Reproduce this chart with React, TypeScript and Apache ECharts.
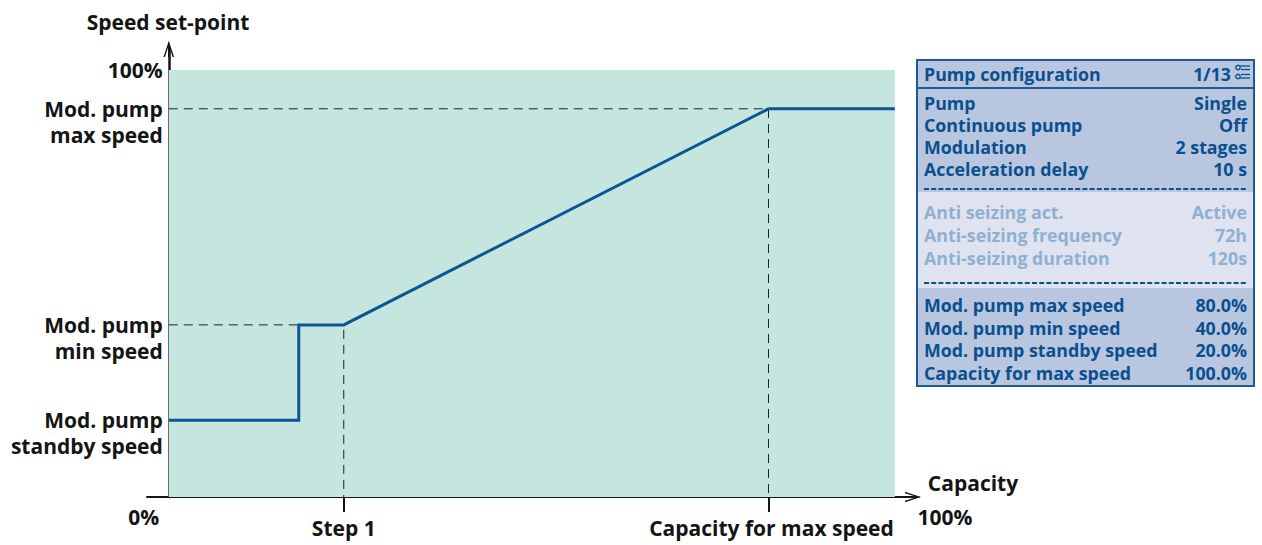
import React, { useEffect, useRef } from "react";
import * as echarts from "echarts";

// ---- chart data ----
const speedLine: [number, number][] = [
  [0, 18], [17.9, 18], [17.9, 40.3], [24.1, 40.3], [82.6, 90.9], [100, 90.9],
];
const maxSpeedGuide: [number, number][] = [[0, 90.9], [82.6, 90.9], [82.6, 0]];
const minSpeedGuide: [number, number][] = [[0, 40.3], [24.1, 40.3], [24.1, 0]];

const yLabelValues = [100, 90.9, 40.3, 18];
const yLabelTexts = ["100%", "Mod. pump\nmax speed", "Mod. pump\nmin speed", "Mod. pump\nstandby speed"];
const xTickValues = [24.1, 82.6];
const xTickTexts = ["Step 1", "Capacity for max speed"];
const xEndTexts = ["0%", "100%"];
const yAxisTitle = "Speed set-point";
const xAxisTitle = "Capacity";

// ---- panel content ----
const panelTitle = "Pump configuration";
const panelPage = "1/13";
const group1Labels = ["Pump", "Continuous pump", "Modulation", "Acceleration delay"];
const group1Values = ["Single", "Off", "2 stages", "10 s"];
const group2Labels = ["Anti seizing act.", "Anti-seizing frequency", "Anti-seizing duration"];
const group2Values = ["Active", "72h", "120s"];
const group3Labels = ["Mod. pump max speed", "Mod. pump min speed", "Mod. pump standby speed", "Capacity for max speed"];
const group3Values = ["80.0%", "40.0%", "20.0%", "100.0%"];

const FONT = '"Open Sans", "Noto Sans", sans-serif';
const INK = "#141414";
const BLUE = "#0a4f8e";
const FADED = "#8fb0d1";
const ARROW = "path://M5,0 L10,15 L8.6,15 L5,4 L1.4,15 L0,15 Z M4.3,1 L5.7,1 L5.7,15 L4.3,15 Z";
const LS = 21;

export default function App() {
  const ref = useRef<HTMLDivElement>(null);
  useEffect(() => {
    if (!ref.current) return;
    const chart = echarts.init(ref.current, undefined, { renderer: "svg" });
    const option: any = {
      animation: false,
      grid: { left: 147, top: 49, width: 766, height: 448 },
      xAxis: {
        type: "value", min: -3, max: 102.5,
        splitLine: { show: false },
        axisLabel: { show: false },
        axisLine: {
          show: true, onZero: true,
          lineStyle: { color: INK, width: 2 },
          symbol: ["none", ARROW], symbolSize: [11, 16], symbolOffset: [0, 0],
        },
        axisTick: { show: true, customValues: xTickValues, length: 15, lineStyle: { color: INK, width: 2 } },
      },
      yAxis: {
        type: "value", min: 0, max: 104.9,
        splitLine: { show: false },
        axisLabel: { show: false },
        axisTick: { show: false },
        axisLine: {
          show: true, onZero: true,
          lineStyle: { color: INK, width: 2.5 },
          symbol: ["none", ARROW], symbolSize: [11, 16], symbolOffset: [0, 0],
        },
      },
      series: [
        {
          type: "line", data: maxSpeedGuide, symbol: "none", silent: true, z: 3,
          lineStyle: { color: "#222", width: 1, type: [9, 6] },
          markArea: {
            silent: true,
            itemStyle: { color: "#c5e5df" },
            data: [[{ coord: [0, 0] }, { coord: [100, 100] }]],
          },
        },
        {
          type: "line", data: minSpeedGuide, symbol: "none", silent: true, z: 3,
          lineStyle: { color: "#222", width: 1, type: [9, 6] },
        },
        {
          type: "line", data: speedLine, symbol: "none", silent: true, z: 4,
          lineStyle: { color: "#0b5595", width: 3, join: "miter" },
        },
      ],
    };
    chart.setOption(option);

    const px = (x: number, y: number) => chart.convertToPixel({ gridIndex: 0 }, [x, y]) as number[];
    const g: any[] = [];
    const txt = (text: string, x: number, y: number, align: string, va: string, size: number, fill: string, extra: any = {}) =>
      g.push({
        type: "text", x, y, silent: true,
        style: { text, align, verticalAlign: va, fontSize: size, fontWeight: 700, fontFamily: FONT, fill, lineHeight: 26, ...extra },
      });

    // y labels
    yLabelValues.forEach((v, i) => {
      const p = px(0, v);
      const multi = yLabelTexts[i].includes("\n");
      txt(yLabelTexts[i], p[0] - 6, multi ? p[1] - 13 : p[1], "right", multi ? "top" : "middle", LS, INK);
    });
    // x tick labels
    xTickValues.forEach((v, i) => {
      const p = px(v, 0);
      txt(xTickTexts[i], p[0] + (i === 1 ? 3 : 0), p[1] + 31, "center", "middle", LS, INK);
    });
    const p0 = px(0, 0);
    const p100 = px(100, 0);
    txt(xEndTexts[0], p0[0] - 25, p0[1] + 20, "center", "middle", LS, INK);
    txt(xEndTexts[1], p100[0] + 50, p100[1] + 20, "center", "middle", LS, INK);
    txt(xAxisTitle, p100[0] + 33, p100[1] - 14, "left", "middle", LS, INK);
    txt(yAxisTitle, 168, 22, "center", "middle", LS, INK);

    // panel
    const L = 917, T = 60, R = 1254, B = 386;
    g.push({ type: "rect", shape: { x: L, y: T, width: R - L, height: B - T }, style: { fill: "#b9c6e0", stroke: "#1b5c98", lineWidth: 2 }, silent: true });
    g.push({ type: "rect", shape: { x: L + 1, y: 192, width: R - L - 2, height: 96 }, style: { fill: "#dfe3f0" }, silent: true });
    g.push({ type: "line", shape: { x1: L, y1: 88, x2: R, y2: 88 }, style: { stroke: "#1b5c98", lineWidth: 2 }, silent: true });
    g.push({ type: "line", shape: { x1: 924, y1: 189, x2: 1247, y2: 189 }, style: { stroke: BLUE, lineWidth: 2, lineDash: [5, 2.2] }, silent: true });
    g.push({ type: "line", shape: { x1: 924, y1: 283, x2: 1247, y2: 283 }, style: { stroke: BLUE, lineWidth: 2, lineDash: [5, 2.2] }, silent: true });
    const TL = 924, TR = 1247, PS = 17.8;
    txt(panelTitle, TL, 74, "left", "middle", PS, BLUE);
    txt(panelPage, 1231, 74, "right", "middle", PS, BLUE);
    // icon
    g.push({ type: "circle", shape: { cx: 1238, cy: 67.5, r: 2.2 }, style: { fill: "none", stroke: BLUE, lineWidth: 1.3 }, silent: true });
    g.push({ type: "circle", shape: { cx: 1238, cy: 76.5, r: 2.2 }, style: { fill: "none", stroke: BLUE, lineWidth: 1.3 }, silent: true });
    g.push({ type: "line", shape: { x1: 1240, y1: 66, x2: 1250, y2: 66 }, style: { stroke: BLUE, lineWidth: 1.3 }, silent: true });
    g.push({ type: "line", shape: { x1: 1241, y1: 69.5, x2: 1250, y2: 69.5 }, style: { stroke: BLUE, lineWidth: 1.3 }, silent: true });
    g.push({ type: "line", shape: { x1: 1241, y1: 74.5, x2: 1250, y2: 74.5 }, style: { stroke: BLUE, lineWidth: 1.3 }, silent: true });
    g.push({ type: "line", shape: { x1: 1240, y1: 78, x2: 1250, y2: 78 }, style: { stroke: BLUE, lineWidth: 1.3 }, silent: true });

    const rows = (labels: string[], values: string[], y0: number, step: number, fill: string) =>
      labels.forEach((l, i) => {
        txt(l, TL, y0 + i * step, "left", "middle", PS, fill);
        txt(values[i], TR, y0 + i * step, "right", "middle", PS, fill);
      });
    rows(group1Labels, group1Values, 103, 22, BLUE);
    rows(group2Labels, group2Values, 212, 23, FADED);
    rows(group3Labels, group3Values, 305, 22.7, BLUE);

    chart.setOption({ graphic: g });
    return () => chart.dispose();
  }, []);
  return <div ref={ref} style={{ position: "absolute", left: 0, top: 0, width: 1262, height: 545 }} />;
}
